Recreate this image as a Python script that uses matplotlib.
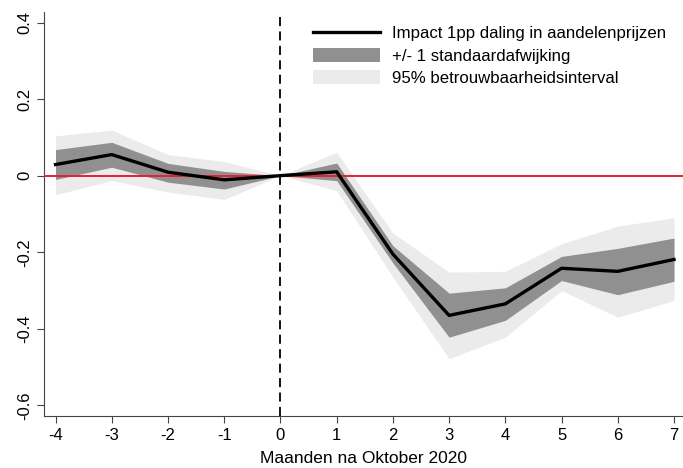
import matplotlib.pyplot as plt
import numpy as np

# Maanden na oktober 2020
maanden = [-4, -3, -2, -1, 0, 1, 2, 3, 4, 5, 6, 7]
impact = [0.029, 0.055, 0.009, -0.011, 0.0, 0.010, -0.205, -0.365, -0.335, -0.242, -0.250, -0.219]
sd_hoog = [0.068, 0.087, 0.032, 0.011, 0.0, 0.033, -0.183, -0.307, -0.293, -0.211, -0.190, -0.163]
sd_laag = [-0.010, 0.022, -0.017, -0.035, 0.0, -0.013, -0.228, -0.422, -0.378, -0.274, -0.311, -0.276]
ci_hoog = [0.104, 0.119, 0.055, 0.037, 0.0, 0.061, -0.150, -0.252, -0.250, -0.178, -0.132, -0.110]
ci_laag = [-0.050, -0.013, -0.043, -0.062, 0.0, -0.039, -0.265, -0.478, -0.422, -0.300, -0.370, -0.326]

plt.rcParams['font.family'] = ['Liberation Sans', 'DejaVu Sans']
plt.rcParams['axes.unicode_minus'] = False

fig = plt.figure(figsize=(6.83, 4.68), dpi=100)
ax = fig.add_axes([0.064, 0.111, 0.936, 0.863])

ax.fill_between(maanden, ci_laag, ci_hoog, color='#ebebeb', linewidth=0,
                label='95% betrouwbaarheidsinterval')
ax.fill_between(maanden, sd_laag, sd_hoog, color='#909090', linewidth=0,
                label='+/- 1 standaardafwijking')
ax.axhline(0, color='#e8202a', linewidth=1.4, zorder=3)
ax.axvline(0, color='black', linestyle=(0, (5, 3)), linewidth=1.3, zorder=3)
ax.plot(maanden, impact, color='black', linewidth=2.4, zorder=4,
        label='Impact 1pp daling in aandelenprijzen')

ax.set_xlim(-4.21, 7.16)
ax.set_ylim(-0.628, 0.427)
ax.set_xticks(maanden)
ax.set_yticks([-0.6, -0.4, -0.2, 0, 0.2, 0.4])
ax.set_yticklabels(['-0.6', '-0.4', '-0.2', '0', '0.2', '0.4'], rotation=90, va='center')
ax.tick_params(labelsize=12, length=5, color='#444444')

for s in ['top', 'right']:
    ax.spines[s].set_visible(False)
for s in ['left', 'bottom']:
    ax.spines[s].set_color('#444444')

ax.set_xlabel('Maanden na Oktober 2020', fontsize=12.5, labelpad=6)

h, l = ax.get_legend_handles_labels()
order = [2, 1, 0]
ax.legend([h[i] for i in order], [l[i] for i in order], loc='upper left',
          bbox_to_anchor=(0.408, 0.988), frameon=False, fontsize=12.1, borderpad=0,
          handlelength=4.0, handleheight=0.9, labelspacing=0.4, handletextpad=0.7)

fig.savefig('out.png', dpi=100)
